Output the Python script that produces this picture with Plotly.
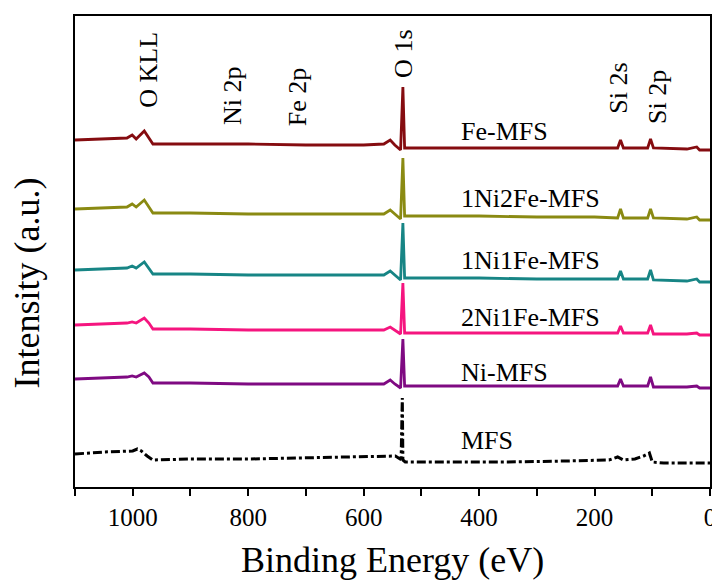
import plotly.graph_objects as go

# Binding energy grid (eV) for the doped samples
energy = [1100, 1040, 1010, 1001, 994, 980, 972, 965, 900, 800, 700, 600,
          565, 554, 546, 536, 532, 529, 520, 400, 300, 200, 160, 155, 150,
          108, 103, 98, 40, 23, 18, 0]

fe_mfs = [347, 348, 349, 352, 348, 356, 349, 343, 343, 343, 342, 342,
          343, 347, 342, 337, 400, 339, 339, 339, 339, 339, 339, 347, 339,
          339, 348, 339, 338, 340, 337, 337]
ni1fe2_mfs = [278, 279, 280, 283, 280, 287, 280, 274, 274, 273, 273, 273,
              273, 277, 273, 268, 329, 271, 271, 271, 270, 270, 269, 278, 269,
              269, 278, 269, 268, 270, 267, 267]
ni1fe1_mfs = [217, 218, 219, 221, 219, 225, 219, 213, 213, 212, 212, 212,
              212, 216, 212, 207, 264, 209, 209, 209, 208, 208, 208, 216, 208,
              208, 217, 207, 206, 208, 205, 205]
ni2fe1_mfs = [162, 163, 164, 165, 164, 169, 164, 158, 158, 157, 157, 157,
              157, 160, 157, 153, 204, 154, 154, 154, 154, 154, 154, 161, 154,
              154, 162, 153, 153, 154, 152, 152]
ni_mfs = [108, 109, 110, 111, 110, 114, 110, 104, 104, 103, 103, 103,
          103, 107, 103, 99, 148, 101, 101, 101, 101, 101, 101, 108, 101,
          101, 110, 100, 100, 101, 99, 99]

# Bare MFS support
energy_mfs = [1100, 1050, 1000, 992, 985, 975, 965, 900, 800, 700, 600, 545,
              537, 535, 533, 532, 528, 450, 350, 250, 175, 160, 150, 130, 115,
              105, 100, 80, 0]
mfs = [33, 35, 36, 38, 36, 31, 27, 28, 28, 29, 30, 31,
       28, 30, 89, 27, 25, 25, 25, 26, 27, 30, 27, 28, 31,
       34, 25, 24, 24]

series_names = ["Fe-MFS", "1Ni2Fe-MFS", "1Ni1Fe-MFS", "2Ni1Fe-MFS", "Ni-MFS"]
series_values = [fe_mfs, ni1fe2_mfs, ni1fe1_mfs, ni2fe1_mfs, ni_mfs]
series_colors = ["#850c10", "#8a8a12", "#178585", "#f5157f", "#7f0a82"]

# Sample labels (x in eV, y in a.u.)
label_x = 435
label_y = [356, 289, 227, 170, 115, 47]
label_text = series_names + ["MFS"]

# Peak assignment labels
peak_text = ["O KLL", "Ni 2p", "Fe 2p", "O 1s", "Si 2s", "Si 2p"]
peak_x = [974, 828, 715, 532, 160, 92]
peak_y = [417, 391, 390, 433, 399, 390]

FONT = "Liberation Serif, Times New Roman, serif"

fig = go.Figure()
for name, vals, col in zip(series_names, series_values, series_colors):
    fig.add_trace(go.Scatter(x=energy, y=vals, mode="lines", name=name,
                             line=dict(color=col, width=2.8)))
fig.add_trace(go.Scatter(x=energy_mfs, y=mfs, mode="lines", name="MFS",
                         line=dict(color="black", width=3, dash="dashdot")))

for t, y in zip(label_text, label_y):
    fig.add_annotation(x=label_x, y=y, text=t, showarrow=False,
                       xanchor="left", yanchor="middle",
                       font=dict(family=FONT, size=26, color="black"))
for t, x, y in zip(peak_text, peak_x, peak_y):
    fig.add_annotation(x=x, y=y, text=t, showarrow=False, textangle=-90,
                       xanchor="center", yanchor="middle",
                       font=dict(family=FONT, size=26, color="black"))

# Axis titles placed as paper-referenced text
fig.add_annotation(xref="paper", yref="paper", x=0.5, y=-0.156,
                   text="Binding Energy (eV)", showarrow=False,
                   xanchor="center", yanchor="middle",
                   font=dict(family=FONT, size=36, color="black"))
fig.add_annotation(xref="paper", yref="paper", x=-0.075, y=0.433,
                   text="Intensity (a.u.)", showarrow=False, textangle=-90,
                   xanchor="center", yanchor="middle",
                   font=dict(family=FONT, size=36, color="black"))

fig.update_layout(
    width=720, height=581,
    margin=dict(l=67, r=18, t=8, b=102, autoexpand=False),
    plot_bgcolor="white", paper_bgcolor="white",
    showlegend=False,
    font=dict(family=FONT, color="black"),
    xaxis=dict(range=[1100, 0], showgrid=False, zeroline=False, automargin=False,
               showline=True, linecolor="black", linewidth=2, mirror=True,
               ticks="outside", ticklen=7, tickwidth=1.5, tickcolor="black",
               tick0=0, dtick=200,
               minor=dict(ticks="outside", dtick=100, ticklen=7, tickwidth=1.5,
                          tickcolor="black"),
               tickfont=dict(family=FONT, size=25, color="black")),
    yaxis=dict(range=[0, 471], showgrid=False, zeroline=False, automargin=False,
               showline=True, linecolor="black", linewidth=2, mirror=True,
               showticklabels=False, ticks=""),
)

fig.write_html("out.html")
